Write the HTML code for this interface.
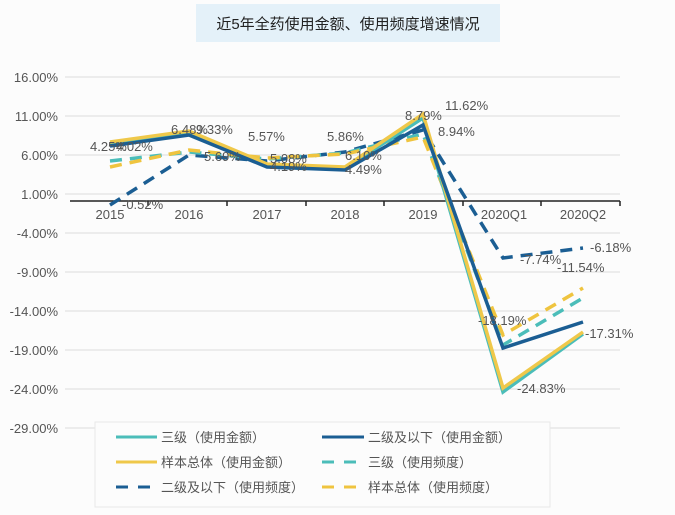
<!DOCTYPE html>
<html><head><meta charset="utf-8"><style>
body{margin:0;background:#fff;}
svg{display:block;font-family:"Liberation Sans","Noto Sans CJK SC",sans-serif;}
</style></head><body>
<svg width="675" height="515" viewBox="0 0 675 515" xmlns="http://www.w3.org/2000/svg">
<rect x="0" y="0" width="675" height="515" fill="#fcfcfc"/>
<rect x="196" y="4" width="304" height="38" fill="#e4f1f9"/>
<text x="348" y="29" font-size="15" text-anchor="middle" fill="#222">近5年全药使用金额、使用频度增速情况</text>
<g stroke="#dddddd" stroke-width="1">
<line x1="65" y1="77" x2="620" y2="77"/><line x1="65" y1="116" x2="620" y2="116"/>
<line x1="65" y1="155" x2="620" y2="155"/><line x1="65" y1="194" x2="620" y2="194"/>
<line x1="65" y1="233" x2="620" y2="233"/><line x1="65" y1="272" x2="620" y2="272"/>
<line x1="65" y1="311" x2="620" y2="311"/><line x1="65" y1="350" x2="620" y2="350"/>
<line x1="65" y1="389" x2="620" y2="389"/><line x1="65" y1="428" x2="620" y2="428"/>
</g>
<g font-size="13" fill="#555" text-anchor="end">
<text x="58" y="82">16.00%</text><text x="58" y="121">11.00%</text><text x="58" y="160">6.00%</text>
<text x="58" y="199">1.00%</text><text x="58" y="238">-4.00%</text><text x="58" y="277">-9.00%</text>
<text x="58" y="316">-14.00%</text><text x="58" y="355">-19.00%</text><text x="58" y="394">-24.00%</text>
<text x="58" y="433">-29.00%</text>
</g>
<g stroke="#222" stroke-width="1.5">
<line x1="70" y1="201" x2="620" y2="201"/>
<line x1="148" y1="201" x2="148" y2="206"/><line x1="227" y1="201" x2="227" y2="206"/>
<line x1="306" y1="201" x2="306" y2="206"/><line x1="384" y1="201" x2="384" y2="206"/>
<line x1="463" y1="201" x2="463" y2="206"/><line x1="541" y1="201" x2="541" y2="206"/>
<line x1="620" y1="201" x2="620" y2="206"/>
</g>
<g font-size="13" fill="#555" text-anchor="middle">
<text x="110" y="219">2015</text><text x="189" y="219">2016</text><text x="267" y="219">2017</text>
<text x="345" y="219">2018</text><text x="423" y="219">2019</text><text x="504" y="219">2020Q1</text>
<text x="583" y="219">2020Q2</text>
</g>
<g fill="none" stroke-width="3.5" stroke-linejoin="miter">
<polyline stroke="#1b5e93" stroke-dasharray="12,8" points="110,205 189,155 267,161 345,152 423,130 503,258 583,248"/>
<polyline stroke="#4bbdb9" stroke-dasharray="12,8" points="110,161 189,152 267,159 345,153 423,134 503,345 583,298"/>
<polyline stroke="#efc43f" stroke-dasharray="12,8" points="110,167 189,150 267,158 345,154 423,137 503,335 583,288"/>
<polyline stroke="#4bbdb9" points="110,144 189,134 267,166 345,168 423,118 503,392 583,334"/>
<polyline stroke="#efc84a" points="110,142 189,131 267,164 345,167 423,114 503,388 583,332"/>
<polyline stroke="#1b5e93" points="110,146 189,135 267,167 345,170 423,125 503,348 583,322"/>
</g>
<g font-size="13" fill="#555">
<text x="90" y="151">4.25%</text><text x="116" y="151">4.02%</text>
<text x="171" y="134">6.48%</text><text x="196" y="134">9.33%</text>
<text x="248" y="141">5.57%</text><text x="327" y="141">5.86%</text>
<text x="204" y="161">5.69%</text><text x="270" y="171">4.19%</text><text x="270" y="163">5.08%</text>
<text x="345" y="160">6.10%</text><text x="345" y="174">4.49%</text>
<text x="405" y="120">8.79%</text><text x="445" y="110">11.62%</text><text x="438" y="136">8.94%</text>
<text x="122" y="209">-0.52%</text>
<text x="520" y="264">-7.74%</text><text x="590" y="252">-6.18%</text>
<text x="557" y="272">-11.54%</text><text x="478" y="325">-18.19%</text>
<text x="585" y="338">-17.31%</text><text x="517" y="393">-24.83%</text>
</g>
<rect x="95" y="422" width="455" height="85" fill="#fcfcfc" stroke="#e8e8e8"/>
<g stroke-width="3">
<line x1="116" y1="437" x2="157" y2="437" stroke="#4bbdb9"/>
<line x1="322" y1="437" x2="364" y2="437" stroke="#1b5e93"/>
<line x1="116" y1="462" x2="157" y2="462" stroke="#efc84a"/>
<line x1="322" y1="462" x2="364" y2="462" stroke="#4bbdb9" stroke-dasharray="12,10"/>
<line x1="116" y1="487" x2="157" y2="487" stroke="#1b5e93" stroke-dasharray="12,10"/>
<line x1="322" y1="487" x2="364" y2="487" stroke="#efc43f" stroke-dasharray="12,10"/>
</g>
<g font-size="13" fill="#555">
<text x="161" y="442">三级（使用金额）</text><text x="368" y="442">二级及以下（使用金额）</text>
<text x="161" y="467">样本总体（使用金额）</text><text x="368" y="467">三级（使用频度）</text>
<text x="161" y="492">二级及以下（使用频度）</text><text x="368" y="492">样本总体（使用频度）</text>
</g>
</svg>
</body></html>
